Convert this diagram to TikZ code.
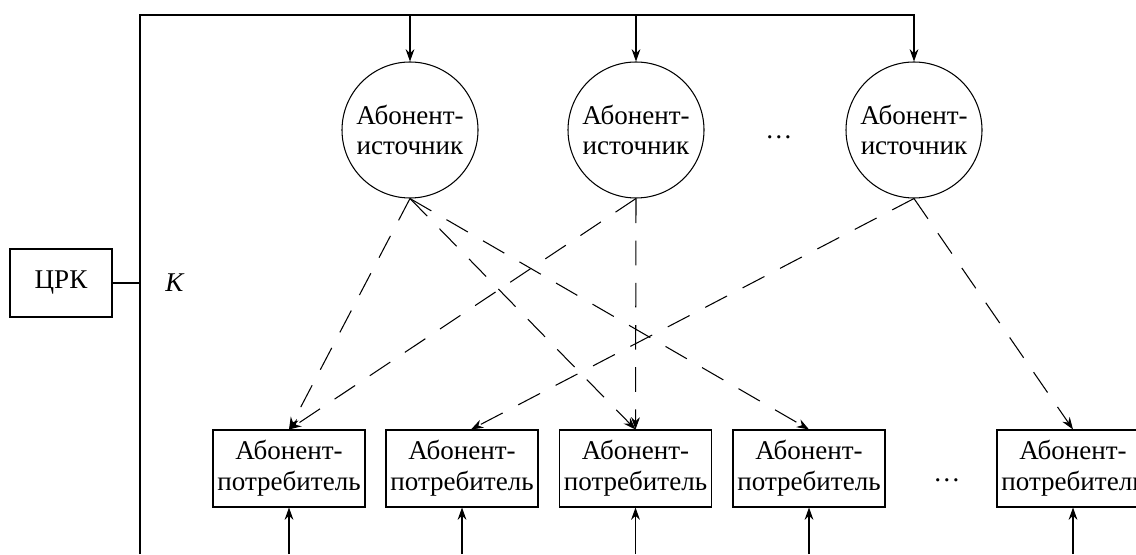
\documentclass[tikz,border=0pt]{standalone}
\usepackage{fontspec}
\setmainfont{Liberation Serif}
\usetikzlibrary{arrows.meta}

\begin{document}
\begin{tikzpicture}[line width=0.6pt,
  every node/.style={font=\fontsize{15.4}{17.5}\selectfont},
  src/.style={draw, circle, minimum size=2.72cm, inner sep=0pt, align=center},
  usr/.style={draw, minimum width=3.04cm, minimum height=1.54cm, inner sep=0pt, align=center},
  link/.style={-{Stealth[length=7pt,width=5pt]}},
  radio/.style={link, dash pattern=on 14pt off 10pt}]
\useasboundingbox (0,0) rectangle (22.72,11.08);

\draw (1.22,5.42) node[draw, minimum width=2.04cm, minimum height=1.36cm] (crk) {ЦРК} ;
\draw (3.5,5.42) node (k) {\textit{K}} ;

\coordinate (bustop) at (2.8,10.78) ;
\coordinate (busbot) at (2.8,0) ;
\coordinate (busk) at (2.8,5.42) ;

\draw (8.2,8.48) node[src] (s1) {Абонент-\\источник} ;
\draw (12.72,8.48) node[src] (s2) {Абонент-\\источник} ;
\draw (15.58,8.34) node (sdots) {\ldots} ;
\draw (18.28,8.48) node[src] (s3) {Абонент-\\источник} ;

\draw (5.78,1.71) node[usr] (c1) {Абонент-\\потребитель} ;
\draw (9.24,1.71) node[usr] (c2) {Абонент-\\потребитель} ;
\draw (12.71,1.71) node[usr] (c3) {Абонент-\\потребитель} ;
\draw (16.18,1.71) node[usr] (c4) {Абонент-\\потребитель} ;
\draw (18.94,1.48) node (cdots) {\ldots} ;
\draw (21.46,1.71) node[usr] (c5) {Абонент-\\потребитель} ;

% common line K
\draw (crk) to (busk) ;
\draw[link] (busbot) -- (bustop) -| (s3.north) ;
\draw[link] (s1 |- bustop) to (s1.north) ;
\draw[link] (s2 |- bustop) to (s2.north) ;

\draw[link] (c1 |- busbot) to (c1.south) ;
\draw[link] (c2 |- busbot) to (c2.south) ;
\draw[link] (c3 |- busbot) to (c3.south) ;
\draw[link] (c4 |- busbot) to (c4.south) ;
\draw[link] (c5 |- busbot) to (c5.south) ;

% radio links
\draw[radio] (s1.south) to (c1.north) ;
\draw[radio] (s1.south) to (c3.north) ;
\draw[radio] (s1.south) to (c4.north) ;
\draw[radio] (s2.south) to (c1.north) ;
\draw[radio] (s2.south) to (c3.north) ;
\draw[radio] (s3.south) to ([xshift=0.18cm]c2.north) ;
\draw[radio] (s3.south) to (c5.north) ;
\end{tikzpicture}
\end{document}
